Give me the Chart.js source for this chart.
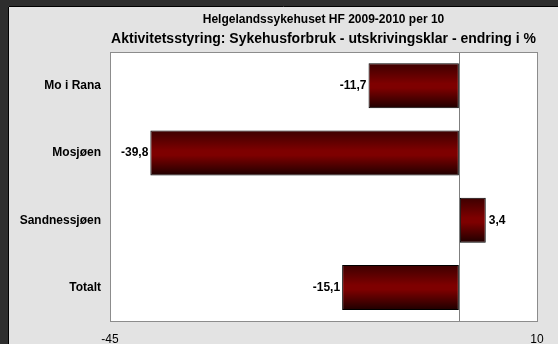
<!DOCTYPE html>
<html>
<head>
<meta charset="utf-8">
<script src="https://cdn.jsdelivr.net/npm/chart.js@4"></script>
<style>
  html, body { margin: 0; padding: 0; background: #2e2e2e; }
  #wrap { width: 558px; height: 344px; }
</style>
</head>
<body>
<div id="wrap"><canvas id="chart" width="558" height="344"></canvas></div>
<script>
// --- Data ---
const categories = ['Mo i Rana', 'Mosjøen', 'Sandnessjøen', 'Totalt'];
const changeValues = [-11.7, -39.8, 3.4, -15.1];
const xTickValues = [-45, 0, 10];
const titleLine1 = 'Helgelandssykehuset HF 2009-2010 per 10';
const titleLine2 = 'Aktivitetsstyring: Sykehusforbruk - utskrivingsklar - endring i %';

const FONT = 'Arial, "Liberation Sans", sans-serif';

// --- Background panel + white plot area ---
const panelPlugin = {
  id: 'panel',
  beforeDraw(chart) {
    const { ctx, chartArea: a } = chart;
    ctx.save();
    ctx.fillStyle = '#2e2e2e';
    ctx.fillRect(0, 0, chart.width, chart.height);
    ctx.fillStyle = '#e3e3e3';
    ctx.fillRect(8, 6, chart.width - 8, chart.height - 6);
    ctx.strokeStyle = '#000';
    ctx.lineWidth = 1;
    ctx.beginPath();
    ctx.moveTo(8.5, chart.height);
    ctx.lineTo(8.5, 6.5);
    ctx.lineTo(chart.width, 6.5);
    ctx.stroke();
    ctx.fillStyle = '#fff';
    ctx.fillRect(a.left, a.top, a.right - a.left, a.bottom - a.top);
    ctx.restore();
  },
  afterDatasetsDraw(chart) {
    const { ctx, chartArea: a } = chart;
    ctx.save();
    ctx.strokeStyle = '#8c8c8c';
    ctx.lineWidth = 1;
    ctx.strokeRect(Math.round(a.left) + 0.5, Math.round(a.top) + 0.5,
      Math.round(a.right - a.left), Math.round(a.bottom - a.top));
    // value labels at bar ends
    const meta = chart.getDatasetMeta(0);
    ctx.font = 'bold 12px ' + FONT;
    ctx.fillStyle = '#000';
    ctx.textBaseline = 'middle';
    meta.data.forEach((bar, i) => {
      const v = changeValues[i];
      const txt = v.toFixed(1).replace('.', ',');
      if (v < 0) {
        ctx.textAlign = 'right';
        ctx.fillText(txt, bar.x - 2, bar.y);
      } else {
        ctx.textAlign = 'left';
        ctx.fillText(txt, bar.x + 3, bar.y);
      }
    });
    ctx.restore();
  }
};

function barGradient(context) {
  const chart = context.chart;
  if (!chart.chartArea || !chart.scales.y) return '#7a0000';
  const yc = chart.scales.y.getPixelForValue(context.dataIndex);
  const h = 45;
  const g = chart.ctx.createLinearGradient(0, yc - h / 2, 0, yc + h / 2);
  g.addColorStop(0, '#3c0000');
  g.addColorStop(0.45, '#7e0000');
  g.addColorStop(0.55, '#7e0000');
  g.addColorStop(1, '#1e0000');
  return g;
}

new Chart(document.getElementById('chart').getContext('2d'), {
  type: 'bar',
  data: {
    labels: categories,
    datasets: [{
      data: changeValues,
      backgroundColor: barGradient,
      borderColor: '#000',
      borderWidth: 1,
      borderSkipped: false,
      categoryPercentage: 1,
      barPercentage: 0.67
    }]
  },
  options: {
    indexAxis: 'y',
    responsive: false,
    animation: false,
    devicePixelRatio: 1,
    layout: { padding: { left: 8, right: 21, top: 6, bottom: 0 } },
    plugins: {
      legend: { display: false },
      tooltip: { enabled: false },
      title: {
        display: true,
        text: titleLine1,
        fullSize: false,
        color: '#000',
        font: { family: FONT, size: 12, weight: 'bold' },
        padding: { top: 6, bottom: 2 }
      },
      subtitle: {
        display: true,
        text: titleLine2,
        fullSize: false,
        color: '#000',
        font: { family: FONT, size: 14, weight: 'bold' },
        padding: { top: 2, bottom: 5 }
      }
    },
    scales: {
      x: {
        type: 'linear',
        min: -45,
        max: 10,
        afterBuildTicks(scale) {
          scale.ticks = xTickValues.map(v => ({ value: v }));
        },
        afterFit(scale) { scale.height = 23; },
        border: { display: false },
        grid: {
          drawTicks: false,
          color: ctx => (ctx.tick && ctx.tick.value === 0) ? '#7f7f7f' : 'rgba(0,0,0,0)'
        },
        ticks: {
          padding: 11,
          color: '#000',
          font: { family: FONT, size: 12 },
          maxRotation: 0,
          autoSkip: false,
          callback: v => (v === 0 ? '' : String(v))
        }
      },
      y: {
        afterFit(scale) { scale.width = 102; },
        border: { display: false },
        grid: { display: false, drawTicks: false },
        ticks: {
          padding: 9,
          color: '#000',
          font: { family: FONT, size: 12, weight: 'bold' }
        }
      }
    }
  },
  plugins: [panelPlugin]
});
</script>
</body>
</html>
